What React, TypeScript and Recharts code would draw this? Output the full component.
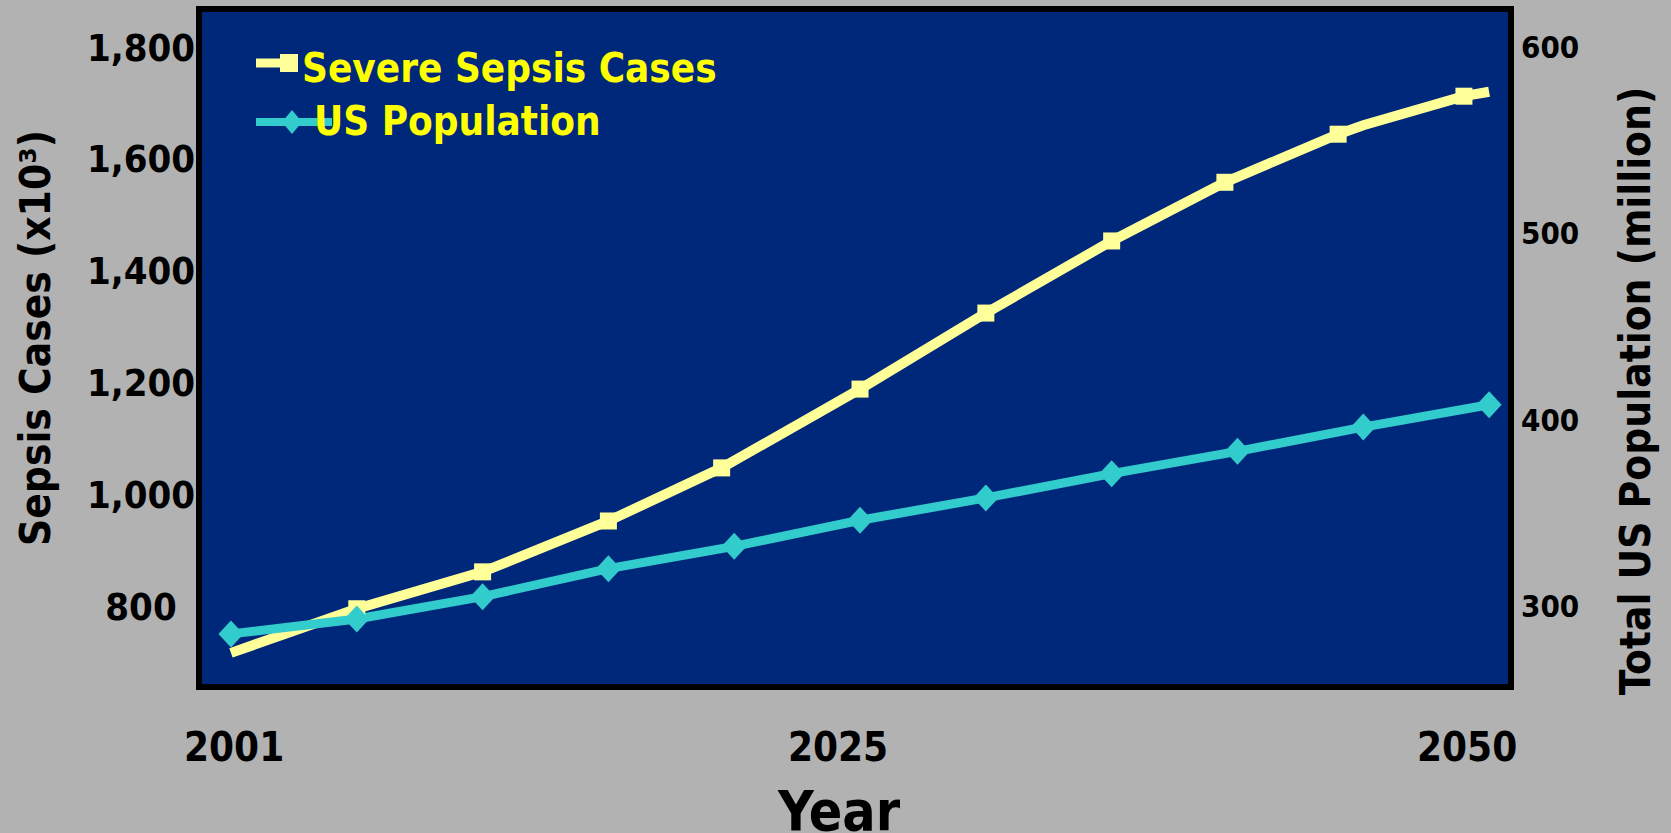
import React from "react";
import {
  LineChart, Line, XAxis, YAxis, ReferenceArea, Legend,
} from "recharts";

// Severe sepsis cases (thousands)
const SEPSIS_YEARS = [2000, 2005, 2010, 2015, 2019.5, 2025, 2030, 2035, 2039.5, 2044, 2045, 2049, 2050];
const SEPSIS_CASES = [716, 795, 861, 952, 1047, 1188, 1324, 1453, 1558, 1644, 1660, 1712, 1720];
const SEPSIS_MARKER_YEARS = [2005, 2010, 2015, 2019.5, 2025, 2030, 2035, 2039.5, 2044, 2049];

// total US population (millions), teal line
const POP_YEARS = [2000, 2005, 2010, 2015, 2020, 2025, 2030, 2035, 2040, 2045, 2050];
const US_POPULATION = [285, 293, 305, 320, 332, 346, 358, 371, 383, 396, 408];

const X_TICKS = [2001, 2025, 2050];
const LEFT_TICKS = [800, 1000, 1200, 1400, 1600, 1800];
const RIGHT_TICKS = [300, 400, 500, 600];

const X_DOMAIN: [number, number] = [1998.73, 2050.87];
const LEFT_DOMAIN: [number, number] = [655, 1868];
const RIGHT_DOMAIN: [number, number] = [256.5, 620.4];

const FONT = "'DejaVu Sans Condensed', 'DejaVu Sans', sans-serif";
const BG = "#B2B2B2";
const PLOT_BG = "#00287A";
const YELLOW = "#FFFF99";
const TEAL = "#33CCCC";
const LEGEND_TEXT = "#FFFF00";

const sepsisData = SEPSIS_YEARS.map((year, i) => ({ year, cases: SEPSIS_CASES[i] }));
const popData = POP_YEARS.map((year, i) => ({ year, pop: US_POPULATION[i] }));

const textStyle = { fontFamily: FONT, fontWeight: 700, fontStretch: "condensed" as const };

function SquareDot(props: any) {
  const { cx, cy, payload } = props;
  if (cx == null || cy == null || !SEPSIS_MARKER_YEARS.includes(payload.year)) return null;
  return <rect x={cx - 8.5} y={cy - 8.5} width={17} height={17} fill={YELLOW} />;
}

function DiamondDot(props: any) {
  const { cx, cy } = props;
  if (cx == null || cy == null) return null;
  return (
    <polygon
      points={`${cx},${cy - 13.5} ${cx + 12.5},${cy} ${cx},${cy + 13.5} ${cx - 12.5},${cy}`}
      fill={TEAL}
    />
  );
}

function LeftTick({ x, y, payload }: any) {
  return (
    <text x={x - 58} y={y} dy="0.36em" textAnchor="middle" fontSize={38} fill="#000" style={textStyle}>
      {Number(payload.value).toLocaleString("en-US")}
    </text>
  );
}

function RightTick({ x, y, payload }: any) {
  return (
    <text x={x + 10} y={y} dy="0.36em" textAnchor="start" fontSize={31} fill="#000" style={textStyle}>
      {payload.value}
    </text>
  );
}

function BottomTick({ x, y, payload }: any) {
  return (
    <text x={x - 22} y={y + 60} dy="0.36em" textAnchor="middle" fontSize={40} fill="#000" style={textStyle}>
      {payload.value}
    </text>
  );
}

function renderLegend() {
  return (
    <svg width={800} height={160} style={{ display: "block" }}>
      <line x1={256} y1={63} x2={298} y2={63} stroke={YELLOW} strokeWidth={9} />
      <rect x={280} y={54} width={18} height={18} fill={YELLOW} />
      <text x={302} y={82} fontSize={40} fill={LEGEND_TEXT} style={textStyle}>
        Severe Sepsis Cases
      </text>
      <line x1={256} y1={122} x2={332} y2={122} stroke={TEAL} strokeWidth={8} />
      <polygon points="292,110 302,122 292,134 282,122" fill={TEAL} />
      <text x={314} y={135} fontSize={40} fill={LEGEND_TEXT} style={textStyle}>
        US Population
      </text>
    </svg>
  );
}

export default function App() {
  return (
    <div style={{ position: "absolute", left: 0, top: 0, width: 1671, height: 833, background: BG, overflow: "hidden" }}>
      <LineChart width={1671} height={833} margin={{ top: 9, right: 0, bottom: 0, left: 0 }}>
        <XAxis
          dataKey="year"
          type="number"
          domain={X_DOMAIN}
          ticks={X_TICKS}
          allowDataOverflow
          axisLine={false}
          tickLine={false}
          tickSize={0}
          tickMargin={0}
          height={146}
          tick={<BottomTick />}
          interval={0}
          label={(p: any) => (
            <text x={p.viewBox.x + 640} y={830} textAnchor="middle" fontSize={55} fill="#000" style={textStyle}>
              Year
            </text>
          )}
        />
        <YAxis
          yAxisId="left"
          orientation="left"
          domain={LEFT_DOMAIN}
          ticks={LEFT_TICKS}
          allowDataOverflow
          axisLine={false}
          tickLine={false}
          tickSize={0}
          tickMargin={0}
          width={199}
          tick={<LeftTick />}
          interval={0}
          label={(p: any) => {
            const cx = p.viewBox.x + 35;
            const cy = p.viewBox.y + 329;
            return (
              <text x={cx} y={cy} dy="0.36em" textAnchor="middle" fontSize={42} fill="#000" style={textStyle}
                transform={`rotate(-90 ${cx} ${cy})`}>
                Sepsis Cases (x10³)
              </text>
            );
          }}
        />
        <YAxis
          yAxisId="right"
          orientation="right"
          domain={RIGHT_DOMAIN}
          ticks={RIGHT_TICKS}
          allowDataOverflow
          axisLine={false}
          tickLine={false}
          tickSize={0}
          tickMargin={0}
          width={160}
          tick={<RightTick />}
          interval={0}
          label={(p: any) => {
            const cx = p.viewBox.x + 124;
            const cy = p.viewBox.y + 382;
            return (
              <text x={cx} y={cy} dy="0.36em" textAnchor="middle" fontSize={42} fill="#000" style={textStyle}
                transform={`rotate(-90 ${cx} ${cy})`}>
                Total US Population (million)
              </text>
            );
          }}
        />
        <ReferenceArea
          yAxisId="left"
          x1={X_DOMAIN[0]}
          x2={X_DOMAIN[1]}
          y1={LEFT_DOMAIN[0]}
          y2={LEFT_DOMAIN[1]}
          fill={PLOT_BG}
          fillOpacity={1}
          stroke="#000"
          strokeWidth={6}
        />
        <Line
          yAxisId="left"
          data={sepsisData}
          dataKey="cases"
          stroke={YELLOW}
          strokeWidth={10}
          dot={<SquareDot />}
          activeDot={false}
          isAnimationActive={false}
        />
        <Line
          yAxisId="right"
          data={popData}
          dataKey="pop"
          stroke={TEAL}
          strokeWidth={9}
          dot={<DiamondDot />}
          activeDot={false}
          isAnimationActive={false}
        />
        <Legend
          layout="vertical"
          align="center"
          verticalAlign="middle"
          content={renderLegend}
          wrapperStyle={{ top: 0, left: 0, width: 800, height: 160 }}
        />
      </LineChart>
    </div>
  );
}
